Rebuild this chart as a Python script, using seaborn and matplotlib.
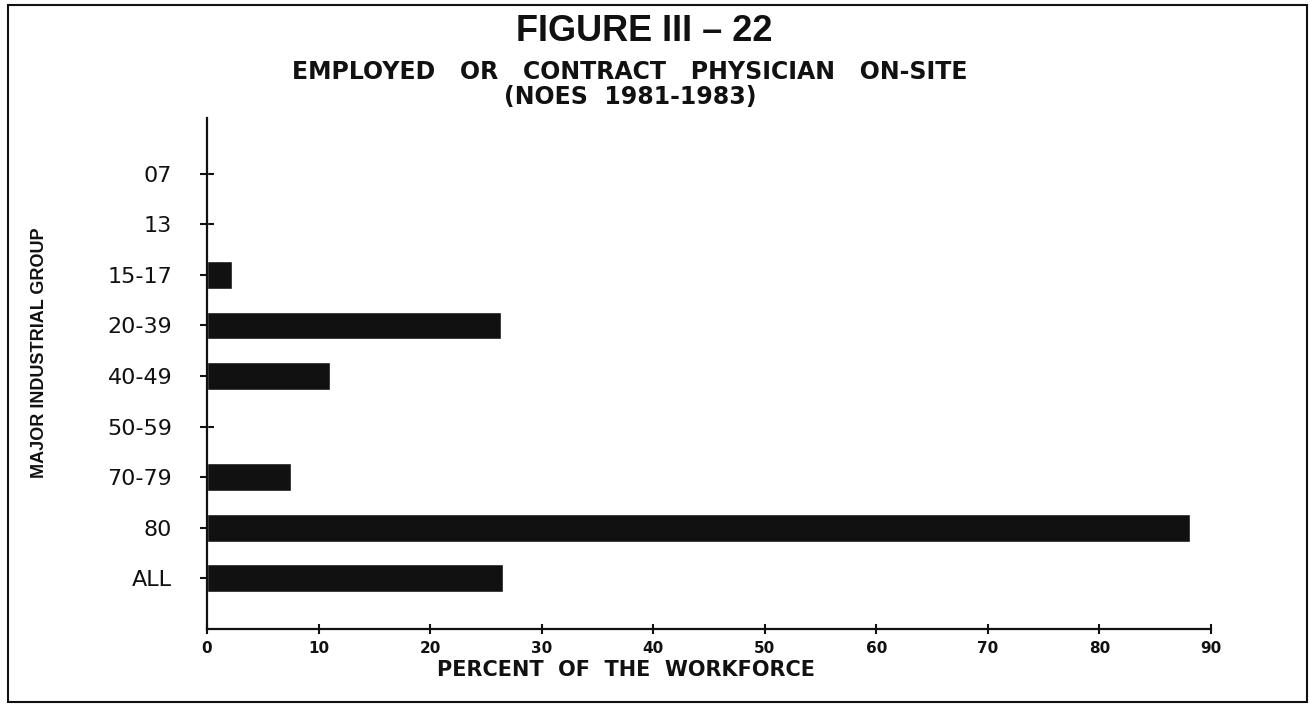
import matplotlib
matplotlib.use("Agg")
import matplotlib.pyplot as plt
from matplotlib.patches import Rectangle
import seaborn as sns
import pandas as pd

# Major industrial groups (SIC ranges) and share of workforce with an on-site physician
groups = ["07", "13", "15-17", "20-39", "40-49", "50-59", "70-79", "80", "ALL"]
percent = [0.0, 0.0, 2.2, 26.4, 11.0, 0.0, 7.5, 88.1, 26.5]
x_ticks = [0, 10, 20, 30, 40, 50, 60, 70, 80, 90]

df = pd.DataFrame({"group": groups, "percent": percent})

sns.set_theme(style="white")
plt.rcParams["font.family"] = ["DejaVu Sans"]

fig = plt.figure(figsize=(13.1, 7.05), dpi=100)
ax = fig.add_axes([0.158, 0.1078, 0.7664, 0.7248])

sns.barplot(data=df, x="percent", y="group", orient="h", order=groups,
            color="#111111", width=0.55, saturation=1, ax=ax)

ax.set_xlim(0, 90)
ax.set_ylim(9.0, -1.1)
ax.set_xticks(x_ticks)
ax.set_xticklabels([str(t) for t in x_ticks], fontsize=11, fontweight="bold")

for side in ("top", "right"):
    ax.spines[side].set_visible(False)
for side in ("left", "bottom"):
    ax.spines[side].set_visible(True)
    ax.spines[side].set_color("#111111")
    ax.spines[side].set_linewidth(1.6)

ax.tick_params(axis="y", direction="inout", length=10, width=1.5,
               color="#111111", pad=20, labelsize=16, labelcolor="#111111", left=True)
ax.tick_params(axis="x", direction="inout", length=7, width=1.5,
               color="#111111", pad=5, labelcolor="#111111", bottom=True)

ax.set_xlabel("PERCENT  OF  THE  WORKFORCE", fontsize=15, fontweight="bold",
              color="#111111")
ax.xaxis.set_label_coords((626 - 207) / 1004, -0.06)
ax.set_ylabel("MAJOR INDUSTRIAL GROUP", fontsize=13, fontweight="bold",
              family=["Liberation Sans Narrow", "Liberation Sans", "DejaVu Sans"],
              color="#111111")
ax.yaxis.set_label_coords(-0.158, 0.54)

fig.text(0.492, 0.955, "FIGURE III \u2013 22", ha="center", va="center",
         fontsize=26, fontweight="bold", color="#111111",
         family=["Liberation Sans Narrow", "Liberation Sans", "DejaVu Sans"])
fig.text(0.481, 0.898, "EMPLOYED   OR   CONTRACT   PHYSICIAN   ON-SITE", ha="center",
         va="center", fontsize=17, fontweight="bold", color="#111111")
fig.text(0.481, 0.862, "(NOES  1981-1983)", ha="center", va="center",
         fontsize=17, fontweight="bold", color="#111111")

# page frame
fig.patches.append(Rectangle((8 / 1310, 3 / 705), 1299 / 1310, 697 / 705,
                             transform=fig.transFigure, fill=False,
                             edgecolor="#111111", linewidth=1.5))

fig.savefig("out.png", dpi=100)
